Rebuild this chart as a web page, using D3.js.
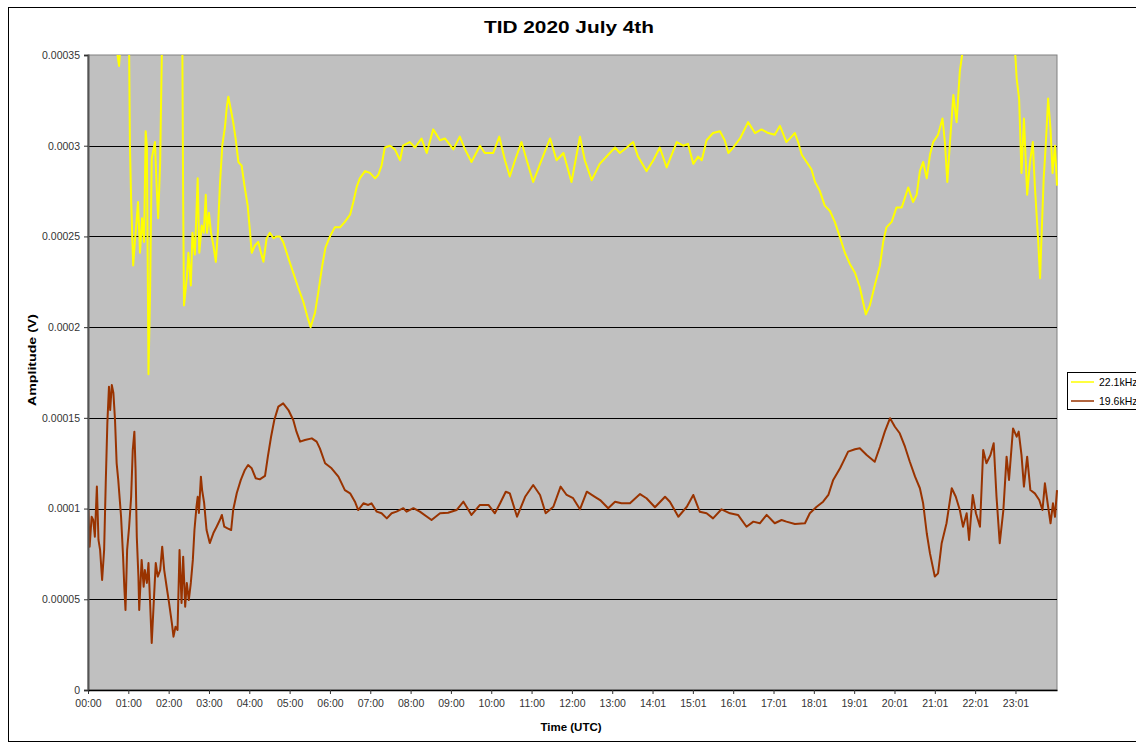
<!DOCTYPE html>
<html>
<head>
<meta charset="utf-8">
<script src="https://cdn.jsdelivr.net/npm/d3@7"></script>
<style>
  html, body { margin: 0; padding: 0; background: #ffffff; }
  svg { display: block; }
  text { font-family: "Liberation Sans", Arial, sans-serif; }
</style>
</head>
<body>
<svg id="chart" width="1136" height="745"></svg>
<script>
// ---------------- DATA ----------------
const chartTitle = "TID 2020 July 4th";
const xAxisTitle = "Time (UTC)";
const yAxisTitle = "Amplitude (V)";
const seriesNames = ["22.1kHz", "19.6kHz"];

// x tick labels (hour positions 0..23)
const xTickHours = [0,1,2,3,4,5,6,7,8,9,10,11,12,13,14,15,16,17,18,19,20,21,22,23];
const xTickLabels = ["00:00","01:00","02:00","03:00","04:00","05:00","06:00","07:00","08:00","09:00","10:00","11:00",
                     "12:00","13:00","14:01","15:01","16:01","17:01","18:01","19:01","20:01","21:01","22:01","23:01"];

// y ticks (volts)
const yTickValues = [0, 0.00005, 0.0001, 0.00015, 0.0002, 0.00025, 0.0003, 0.00035];
const yTickLabels = ["0","0.00005","0.0001","0.00015","0.0002","0.00025","0.0003","0.00035"];

// Series A: 22.1kHz, time in hours (UTC), amplitude in microvolts
const timesA = [0.00,0.30,0.60,0.72,0.77,0.82,0.94,1.02,1.04,1.07,1.12,1.17,1.24,1.29,1.34,1.39,1.43,1.46,1.50,1.54,
  1.58,1.66,1.70,1.74,1.79,1.83,1.86,2.03,2.23,2.34,2.36,2.38,2.45,2.49,2.55,2.59,2.65,2.72,2.76,2.82,
  2.87,2.92,2.95,3.00,3.05,3.11,3.17,3.22,3.27,3.33,3.40,3.44,3.48,3.55,3.60,3.66,3.73,3.81,3.88,3.96,
  4.02,4.06,4.14,4.22,4.29,4.35,4.43,4.51,4.60,4.68,4.76,4.84,4.97,5.09,5.21,5.34,5.45,5.52,5.63,5.71,
  5.81,5.89,6.00,6.12,6.25,6.37,6.50,6.58,6.66,6.74,6.87,6.99,7.12,7.20,7.28,7.36,7.49,7.61,7.74,7.81,
  7.98,8.11,8.27,8.40,8.56,8.73,8.85,9.06,9.22,9.35,9.51,9.72,9.84,10.05,10.20,10.34,10.46,10.59,10.75,10.88,
  11.04,11.21,11.46,11.62,11.79,11.99,12.20,12.32,12.49,12.69,12.90,13.07,13.19,13.36,13.52,13.64,13.85,14.02,14.18,14.35,
  14.60,14.76,14.88,15.01,15.13,15.22,15.34,15.50,15.67,15.79,15.88,16.00,16.17,16.37,16.54,16.70,16.87,17.03,17.16,17.32,
  17.45,17.53,17.61,17.70,17.82,17.94,18.03,18.15,18.27,18.40,18.52,18.64,18.77,18.89,19.02,19.14,19.29,19.39,19.51,19.64,
  19.72,19.80,19.93,20.05,20.18,20.34,20.46,20.55,20.63,20.71,20.80,20.88,20.96,21.08,21.19,21.25,21.31,21.37,21.46,21.54,
  21.62,21.69,21.77,22.12,22.61,22.91,22.99,23.03,23.09,23.15,23.21,23.29,23.36,23.43,23.48,23.56,23.61,23.65,23.70,23.75,
  23.81,23.87,23.92,23.98,24.03];
const valuesA = [420,400,385,352,344,360,395,352,300,270,234,249,269,241,260,247,308,300,174,220,
  293,302,278,260,291,350,365,400,390,352,270,212,227,241,223,252,240,282,241,256,
  252,273,252,263,252,245,236,252,278,300,311,321,327,319,313,304,291,289,278,267,
  252,241,245,247,241,236,249,252,249,250,250,247,238,230,222,214,205,200,208,219,
  234,244,250,255,255,258,262,269,277,282,286,285,282,284,289,299,300,298,292,300,
  302,299,304,296,309,303,304,298,305,298,291,300,296,296,305,292,283,292,302,292,
  280,290,304,292,296,280,305,292,281,290,295,299,296,299,302,294,286,292,299,288,
  302,300,301,290,294,292,303,307,308,303,296,299,304,313,307,309,307,306,311,302,
  305,307,302,295,291,287,280,275,267,264,258,250,241,235,230,222,207,212,223,234,
  247,255,258,266,266,277,269,273,286,291,282,295,302,306,315,302,280,300,328,313,
  341,352,375,400,395,370,352,337,326,285,315,273,291,302,278,249,227,252,282,300,
  326,309,285,300,278];

// Series B: 19.6kHz, time in hours (UTC), amplitude in microvolts
const timesB = [0.01,0.04,0.09,0.13,0.17,0.22,0.26,0.30,0.35,0.40,0.44,0.48,0.52,0.55,0.59,0.63,0.67,0.71,0.75,0.82,
  0.87,0.90,0.93,0.97,1.02,1.07,1.11,1.15,1.18,1.21,1.25,1.27,1.33,1.38,1.41,1.46,1.50,1.54,1.58,1.63,
  1.68,1.73,1.79,1.84,1.89,1.95,2.01,2.08,2.12,2.17,2.22,2.27,2.32,2.36,2.41,2.45,2.50,2.55,2.60,2.64,
  2.69,2.72,2.75,2.80,2.83,2.88,2.94,3.02,3.11,3.19,3.27,3.32,3.38,3.46,3.55,3.60,3.69,3.79,3.89,3.97,
  4.06,4.16,4.26,4.39,4.46,4.54,4.62,4.72,4.84,4.97,5.09,5.17,5.26,5.38,5.55,5.67,5.75,5.88,6.04,6.21,
  6.37,6.50,6.62,6.70,6.83,6.95,7.03,7.16,7.28,7.41,7.53,7.65,7.82,7.90,8.07,8.23,8.52,8.73,8.93,9.14,
  9.31,9.51,9.72,9.93,10.09,10.22,10.36,10.46,10.64,10.84,11.04,11.21,11.35,11.54,11.72,11.87,12.03,12.20,12.37,12.57,
  12.70,12.90,13.07,13.23,13.44,13.69,13.85,14.06,14.31,14.43,14.64,14.85,15.01,15.17,15.34,15.50,15.71,15.92,16.12,16.33,
  16.50,16.66,16.83,17.03,17.20,17.32,17.53,17.78,17.90,18.07,18.23,18.36,18.48,18.65,18.77,18.85,19.02,19.14,19.31,19.51,
  19.64,19.76,19.89,20.01,20.13,20.26,20.38,20.51,20.63,20.71,20.80,20.88,21.00,21.08,21.17,21.29,21.42,21.52,21.62,21.70,
  21.79,21.85,21.94,22.02,22.12,22.20,22.28,22.38,22.46,22.53,22.61,22.70,22.78,22.84,22.94,23.03,23.08,23.15,23.21,23.29,
  23.37,23.48,23.59,23.67,23.73,23.81,23.87,23.93,23.98,24.03];
const valuesB = [99.2,79.0,95.5,93.7,84.5,112.1,82.7,77.2,60.6,77.2,114.1,147.2,167.2,154.3,168.1,163.7,148.8,125.1,115.8,95.5,
  73.5,56.9,44.1,77.2,90.0,106.5,132.3,142.4,121.3,84.5,62.5,44.1,71.7,56.9,66.1,59.0,70.0,48.0,25.9,48.0,
  70.0,62.5,66.1,79.0,66.1,56.9,48.0,36.9,29.4,34.9,33.1,77.2,48.0,73.5,45.9,59.0,49.6,59.0,71.7,88.2,
  101.0,106.5,97.6,117.6,110.2,103.1,88.2,81.0,86.5,90.0,93.7,96.5,90.0,89.1,88.2,99.2,108.6,115.8,121.3,124.0,
  122.2,116.7,116.1,118.0,128.6,139.6,148.8,156.2,158.0,154.3,148.8,142.4,136.9,137.8,138.7,136.9,133.2,125.0,122.2,117.6,
  110.2,108.4,103.8,99.2,102.9,102.0,102.9,98.3,97.4,94.6,97.4,98.3,100.2,98.3,100.2,98.3,93.7,97.4,97.7,99.2,
  103.8,96.5,102.0,102.0,97.4,102.9,109.3,108.4,95.5,106.5,113.0,107.5,97.4,101.0,112.1,107.5,105.7,99.6,109.3,106.5,
  104.7,100.2,103.8,102.9,102.9,108.0,105.7,100.7,106.5,103.8,95.5,101.0,107.5,98.3,97.4,94.6,99.6,97.4,96.5,90.0,
  92.8,91.9,96.5,91.9,93.7,92.8,91.5,91.9,97.4,101.0,103.8,107.5,115.8,122.2,127.7,131.4,132.7,133.2,129.5,125.8,
  134.1,142.4,149.8,145.1,141.5,134.1,125.8,117.6,111.2,102.9,86.4,75.3,62.5,64.3,80.9,91.9,111.2,106.5,99.2,90.0,
  97.4,82.7,107.5,97.4,90.0,132.3,125.0,129.5,136.0,106.5,80.9,99.2,128.6,115.8,144.2,139.6,142.4,129.5,112.1,128.6,
  110.2,108.4,104.7,99.2,113.9,101.0,91.9,102.9,95.5,110.2];

// ---------------- DRAW ----------------
const svg = d3.select("#chart");
const plot = { left: 88, top: 55, right: 1057, bottom: 690 };

const x = d3.scaleLinear().domain([0, 24.03]).range([plot.left, plot.right]);
const y = d3.scaleLinear().domain([0, 0.00035]).range([plot.bottom, plot.top]);

// outer chart border
svg.append("rect")
  .attr("x", 8.5).attr("y", 7.5)
  .attr("width", 1200).attr("height", 734)
  .attr("fill", "#ffffff").attr("stroke", "#000000").attr("stroke-width", 1);

// plot background
svg.append("rect")
  .attr("x", plot.left).attr("y", plot.top)
  .attr("width", plot.right - plot.left).attr("height", plot.bottom - plot.top)
  .attr("fill", "#c0c0c0").attr("stroke", "#808080").attr("stroke-width", 1);

// gridlines
svg.append("g").selectAll("line")
  .data(yTickValues.filter(v => v > 0 && v < 0.00035))
  .join("line")
  .attr("x1", plot.left).attr("x2", plot.right)
  .attr("y1", d => Math.round(y(d)) + 0.5).attr("y2", d => Math.round(y(d)) + 0.5)
  .attr("stroke", "#000000").attr("stroke-width", 1);

// clip path
svg.append("defs").append("clipPath").attr("id", "plotClip")
  .append("rect")
  .attr("x", plot.left).attr("y", plot.top)
  .attr("width", plot.right - plot.left + 1).attr("height", plot.bottom - plot.top);

const line = d3.line()
  .x(d => x(d[0]))
  .y(d => y(d[1] * 1e-6));

const dataA = timesA.map((t, i) => [t, valuesA[i]]);
const dataB = timesB.map((t, i) => [t, valuesB[i]]);
const colors = ["#ffff00", "#993300"];

const lines = svg.append("g").attr("clip-path", "url(#plotClip)");
lines.append("path").datum(dataA)
  .attr("d", line).attr("fill", "none")
  .attr("stroke", colors[0]).attr("stroke-width", 2).attr("stroke-linejoin", "round");
lines.append("path").datum(dataB)
  .attr("d", line).attr("fill", "none")
  .attr("stroke", colors[1]).attr("stroke-width", 2).attr("stroke-linejoin", "round");

// Y axis
const yAxis = d3.axisLeft(y)
  .tickValues(yTickValues)
  .tickFormat((d, i) => yTickLabels[i])
  .tickSize(4).tickPadding(4);
const gy = svg.append("g").attr("transform", `translate(${plot.left},0)`).call(yAxis);
gy.select(".domain").attr("stroke", "#555555").attr("stroke-width", 2);
gy.selectAll(".tick line").attr("stroke", "#333333");
gy.selectAll(".tick text").attr("fill", "#333333")
  .style("font-size", "10.5px").style("font-family", "'Liberation Sans', Arial, sans-serif");

// X axis
const xAxis = d3.axisBottom(x)
  .tickValues(xTickHours)
  .tickFormat((d, i) => xTickLabels[i])
  .tickSize(4).tickSizeOuter(0).tickPadding(6);
const gx = svg.append("g").attr("transform", `translate(0,${plot.bottom})`).call(xAxis);
gx.select(".domain").attr("stroke", "#000000").attr("stroke-width", 1.5);
gx.selectAll(".tick line").attr("stroke", "#333333");
gx.selectAll(".tick text").attr("fill", "#333333")
  .style("font-size", "10.5px").style("font-family", "'Liberation Sans', Arial, sans-serif");

// Title
svg.append("text")
  .attr("x", 569).attr("y", 33)
  .attr("text-anchor", "middle")
  .attr("textLength", 170).attr("lengthAdjust", "spacingAndGlyphs")
  .style("font-size", "17px").style("font-weight", "bold").attr("fill", "#000")
  .text(chartTitle);

// Axis titles
svg.append("text")
  .attr("x", 571).attr("y", 731)
  .attr("text-anchor", "middle")
  .style("font-size", "11.5px").style("font-weight", "bold").attr("fill", "#000")
  .text(xAxisTitle);

svg.append("text")
  .attr("transform", "translate(36,360) rotate(-90)")
  .attr("text-anchor", "middle")
  .attr("textLength", 92).attr("lengthAdjust", "spacingAndGlyphs")
  .style("font-size", "11.5px").style("font-weight", "bold").attr("fill", "#000")
  .text(yAxisTitle);

// Legend (extends past the right edge of the window, as in the reference)
const lg = svg.append("g");
lg.append("rect")
  .attr("x", 1067.5).attr("y", 372.5)
  .attr("width", 100).attr("height", 37)
  .attr("fill", "#ffffff").attr("stroke", "#000000").attr("stroke-width", 1);
seriesNames.forEach((name, i) => {
  const yy = 382 + i * 19;
  lg.append("line")
    .attr("x1", 1071).attr("x2", 1094)
    .attr("y1", yy).attr("y2", yy)
    .attr("stroke", colors[i]).attr("stroke-width", 1.5);
  lg.append("text")
    .attr("x", 1099).attr("y", yy + 4)
    .style("font-size", "10.5px").attr("fill", "#000")
    .text(name);
});
</script>
</body>
</html>
